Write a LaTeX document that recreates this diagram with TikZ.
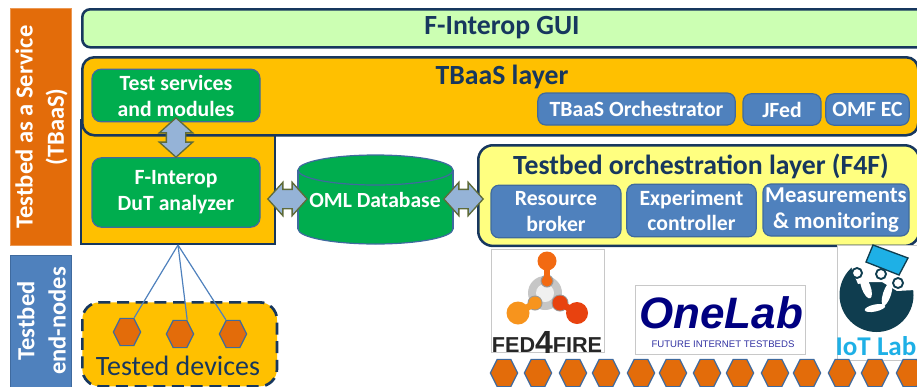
\documentclass[tikz,border=0pt]{standalone}
\usepackage{fontspec}
\setmainfont{Carlito}
\newfontfamily\arialish{Liberation Sans}
\usetikzlibrary{shapes.geometric,shapes.arrows}
\definecolor{navy}{HTML}{17375E}
\definecolor{amber}{HTML}{FFC000}
\definecolor{mint}{HTML}{CCFFB3}
\definecolor{lemon}{HTML}{FFFF80}
\definecolor{leaf}{HTML}{00AD4E}
\definecolor{steel}{HTML}{4F81BD}
\definecolor{steeldk}{HTML}{3F6A9E}
\definecolor{rust}{HTML}{E36C0A}
\definecolor{pale}{HTML}{95B3D7}
\definecolor{olive}{HTML}{5F6B3A}
\definecolor{framegray}{HTML}{C8C8C8}
\definecolor{iotdark}{HTML}{0F3D4F}
\definecolor{iotblue}{HTML}{1EB0E6}
\definecolor{fedtop}{HTML}{F26A12}
\definecolor{fedleft}{HTML}{F7941D}
\definecolor{fedright}{HTML}{E8420F}
\tikzset{
  layer/.style={draw=navy,line width=1.9pt,rounded corners=9pt,anchor=north west,inner sep=0pt},
  greenbox/.style={draw=steeldk,line width=0.9pt,fill=leaf,rounded corners=7pt,text=white,align=center,inner sep=0pt,font=\fontsize{16.3}{19.5}\selectfont\bfseries},
  bluebox/.style={draw=steeldk,line width=0.9pt,fill=steel,rounded corners=6pt,text=white,align=center,inner sep=0pt,font=\fontsize{16.3}{19}\selectfont\bfseries},
  sidebar/.style={line width=0.8pt,text=white,align=center,inner sep=0pt,anchor=north west},
  sidetext/.style={text=white,align=center,rotate=90,inner sep=0pt,font=\fontsize{18.4}{23.5}\selectfont\bfseries},
  layertitle/.style={text=navy,inner sep=0pt,font=\fontsize{20.8}{24}\selectfont\bfseries},
  dblarrow/.style={double arrow,draw=olive,line width=1pt,fill=pale,inner sep=0pt,double arrow head extend=5.25pt,double arrow tip angle=96,minimum height=29.5pt},
  hexa/.style={regular polygon,regular polygon sides=6,minimum size=20.5pt,inner sep=0pt,draw=steeldk,line width=0.9pt,fill=rust,yscale=1.15,transform shape},
  wire/.style={draw=steel,line width=0.9pt},
  logoframe/.style={draw=framegray,line width=0.6pt,fill=white,anchor=north west,inner sep=0pt},
}
\begin{document}
\begin{tikzpicture}[x=0.75pt,y=-0.75pt]
\clip (0,0) rectangle (917,386);
% side bars
\node[sidebar,draw=rust!70!white,fill=rust,minimum width=45.75pt,minimum height=177.75pt] (svc) at (10,8) {};
\node[sidetext] (svct) at (41.5,127) {Testbed as a Service\\(TBaaS)};
\node[sidebar,draw=steeldk,fill=steel,minimum width=45.75pt,minimum height=105pt] (endn) at (10,255) {};
\node[sidetext] (endt) at (41.5,321) {Testbed\\end-nodes};
% GUI
\node[layer,fill=mint,rounded corners=6pt,minimum width=660pt,minimum height=28.5pt] (gui) at (81,8) {};
\node[layertitle] (guit) at (502,28) {F-Interop GUI};
% L-shaped body and TBaaS
\draw[navy,line width=1.9pt,fill=amber] (81,120) -- (81,244) -- (275,244) -- (275,120) -- cycle;
\node[layer,fill=amber,minimum width=627pt,minimum height=58.5pt] (tbaas) at (81,56) {};
\node[layertitle] (tbaast) at (502,77) {TBaaS layer};
\coordinate (hub) at (178,245);
% green boxes
\node[greenbox,minimum width=126pt,minimum height=39.5pt] (tsm) at (176,95.5) {Test services\\and modules};
\node[greenbox,minimum width=126pt,minimum height=52pt] (dut) at (176,192.5) {F-Interop\\DuT analyzer};
% TBaaS boxes
\node[bluebox,minimum width=148pt,minimum height=24pt] (orch) at (636.5,109) {TBaaS Orchestrator};
\node[bluebox,minimum width=58.5pt,minimum height=23.5pt] (jfed) at (782,109.5) {JFed};
\node[bluebox,minimum width=62.5pt,minimum height=23.5pt] (omf) at (867.5,109.5) {OMF EC};
% Testbed layer
\node[layer,fill=lemon,rounded corners=11pt,minimum width=330.75pt,minimum height=75.5pt] (f4f) at (477,144) {};
\node[layertitle] (f4ft) at (701,166) {Testbed orchestration layer (F4F)};
\node[bluebox,minimum width=97.5pt,minimum height=39.5pt] (rb) at (556,211.5) {Resource\\broker};
\node[bluebox,minimum width=97pt,minimum height=39.5pt] (ec) at (691.5,210.5) {Experiment\\controller};
\node[bluebox,minimum width=109.5pt,minimum height=39pt,font=\fontsize{17}{19}\selectfont\bfseries] (mm) at (836,210) {Measurements\\\& monitoring};
% database
\draw[steeldk,line width=0.9pt,fill=leaf] (375.5,229) ellipse[x radius=77.5,y radius=15];
\fill[leaf] (298,170) rectangle (453,229);
\draw[steeldk,line width=0.9pt] (298,170) -- (298,229) (453,170) -- (453,229);
\draw[steeldk,line width=0.9pt,fill=leaf] (375.5,170) ellipse[x radius=77.5,y radius=15];
\node[text=white,inner sep=0pt,font=\fontsize{16.2}{19}\selectfont\bfseries] (dbt) at (375,200) {OML Database};
% double arrows
\node[dblarrow,rotate=90] (a1) at (176,137.5) {\rule{0pt}{13.5pt}};
\node[dblarrow] (a2) at (287.5,199) {\rule{0pt}{13.5pt}};
\node[dblarrow] (a3) at (463.5,199) {\rule{0pt}{13.5pt}};
% tested devices
\node[draw=navy,line width=2pt,dash pattern=on 9pt off 5pt,fill=amber,rounded corners=13pt,minimum width=146pt,minimum height=63pt,anchor=north west,inner sep=0pt] (dev) at (81,301) {};
\node[text=navy,inner sep=0pt,font=\fontsize{21}{24}\selectfont] (devt) at (178,366) {Tested devices};
\node[hexa] (h1) at (127,332) {};
\node[hexa] (h2) at (180,334) {};
\node[hexa] (h3) at (233,334) {};
\draw[wire] (hub) -- (h1.corner 1);
\draw[wire] (hub) -- (h2.corner 1);
\draw[wire] (hub) -- (h3.corner 2);
% FED4FIRE logo
\node[logoframe,minimum width=84.75pt,minimum height=77.25pt] (fedbox) at (491,249) {};
\fill[gray!45] (545,293) circle[radius=17];
\fill[gray!12] (545,293) circle[radius=9];
\fill[black!40] (547,281) circle[radius=6.5];
\fill[black!40] (535,303) circle[radius=7.5];
\fill[black!40] (560,303) circle[radius=8.5];
\draw[fedtop,line width=4pt] (547,261) -- (547,281);
\draw[fedleft,line width=5pt] (535,303) -- (518,313);
\draw[fedright,line width=5pt] (560,303) -- (577,313);
\fill[fedtop] (547,261) circle[radius=9.5];
\fill[fedtop] (547,281) circle[radius=5.5];
\fill[fedleft] (518,313) circle[radius=11.5];
\fill[fedleft] (535,303) circle[radius=6.5];
\fill[fedright] (577,313) circle[radius=11];
\fill[fedright] (560,303) circle[radius=7.5];
\node[inner sep=0pt,text=black!85,font=\arialish\fontsize{16.2}{20}\selectfont\bfseries] (fedt) at (547,342) {FED\raisebox{-0.5pt}{\fontsize{24}{25}\selectfont 4}FIRE};
% OneLab logo
\node[logoframe,minimum width=127.5pt,minimum height=51.75pt] (onebox) at (635,285) {};
\node[inner sep=0pt,text=blue!50!black,font=\arialish\fontsize{33}{36}\selectfont\bfseries\itshape] (onet) at (721,313) {OneLab};
\node[inner sep=0pt,text=blue!55!black!80!white,font=\arialish\fontsize{7.2}{10}\selectfont] (onesub) at (723,344) {FUTURE INTERNET TESTBEDS};
% IoT Lab logo
\node[logoframe,minimum width=66pt,minimum height=86.25pt] (iotbox) at (837,245) {};
\fill[iotdark] (876.5,295) circle[radius=37];
\fill[white] (850,255) -- (905,255) -- (915,290) -- (897,291) -- (882,282) -- (869,282) -- (858,284) -- (852,270) -- cycle;
\fill[white,rotate around={20:(866,287)}] (866,287) ellipse[x radius=4.5,y radius=12];
\fill[white,rotate around={-18:(887,294)}] (887,294) ellipse[x radius=4,y radius=12];
\fill[white,rotate around={12:(875,308)}] (875,308) ellipse[x radius=10.5,y radius=3.5];
\draw[iotdark,line width=1.4pt,fill=white] (857,273) circle[radius=5];
\draw[iotdark,line width=1.4pt,fill=white] (881,274) circle[radius=5];
\draw[iotdark,line width=1.4pt,fill=white] (898,283) circle[radius=5];
\draw[iotdark,line width=1pt,fill=iotblue] (866,262) -- (873,245) -- (908,258) -- (899,275) -- cycle;
\node[inner sep=0pt,text=iotblue,font=\fontsize{20.3}{24}\selectfont\bfseries] (iott) at (876,346) {IoT Lab};
% hexagon row
\foreach \hx [count=\i] in {504,538,573,606,641,673,707,740,775,807,842,875,910}
  \node[hexa] (r\i) at (\hx,373) {};
\end{tikzpicture}
\end{document}
